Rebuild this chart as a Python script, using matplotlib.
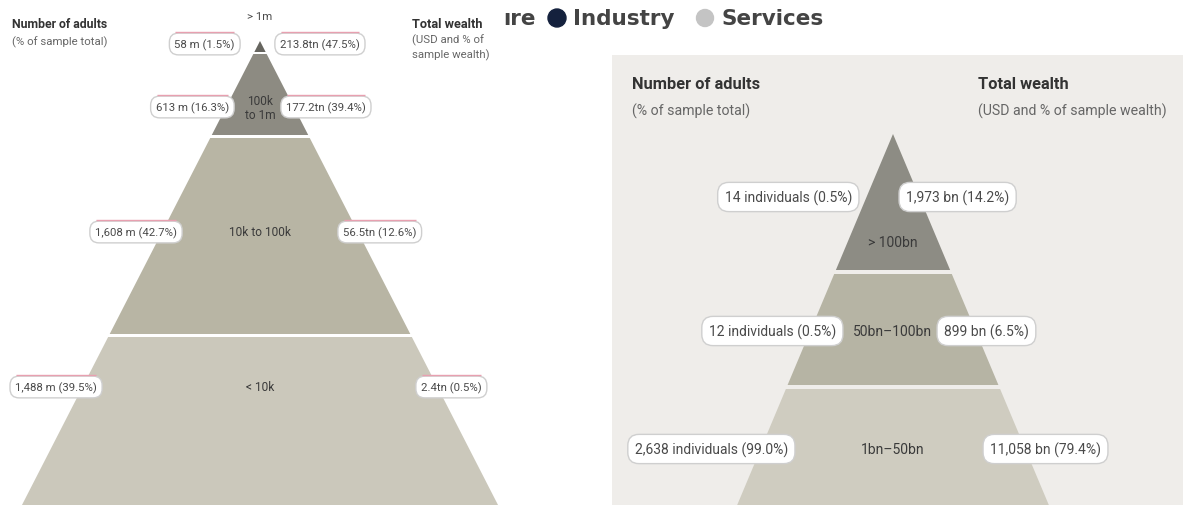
import matplotlib
matplotlib.use("Agg")
import matplotlib.pyplot as plt
from matplotlib.patches import Polygon, Rectangle, Circle

# ---- data -----------------------------------------------------------------
left_tiers = ["> 1m", "100k\nto 1m", "10k to 100k", "< 10k"]
left_adults = ["58 m (1.5%)", "613 m (16.3%)", "1,608 m (42.7%)", "1,488 m (39.5%)"]
left_wealth = ["213.8tn (47.5%)", "177.2tn (39.4%)", "56.5tn (12.6%)", "2.4tn (0.5%)"]

right_tiers = ["> 100bn", "50bn–100bn", "1bn–50bn"]
right_adults = ["14 individuals (0.5%)", "12 individuals (0.5%)", "2,638 individuals (99.0%)"]
right_wealth = ["1,973 bn (14.2%)", "899 bn (6.5%)", "11,058 bn (79.4%)"]

legend_items = ["ıre", "Industry", "Services"]
legend_colors = [None, "#14213d", "#c4c4c4"]

FAM = ["Roboto", "DejaVu Sans"]

W, H = 1183, 506
fig = plt.figure(figsize=(W / 100, H / 100), dpi=100)
ax = fig.add_axes([0, 0, 1, 1])
ax.set_xlim(0, W)
ax.set_ylim(H, 0)
ax.axis("off")

TXT = "#4a4a4a"
pink_boxes = []


def band(cx, apex, slope, y0, y1, color):
    h0 = (y0 - apex) * slope
    h1 = (y1 - apex) * slope
    pts = [(cx - h0, y0), (cx + h0, y0), (cx + h1, y1), (cx - h1, y1)]
    ax.add_patch(Polygon(pts, closed=True, facecolor=color, edgecolor="none", zorder=1))


def label(x, y, s, size, ha, pink=False, pad=0.35):
    t = ax.text(x, y, s, ha=ha, va="center", fontsize=size, color=TXT, family=FAM,
                zorder=5,
                bbox=dict(boxstyle=f"round,pad={pad},rounding_size=0.8", fc="white",
                          ec="#cfcfcf", lw=1.0))
    if pink:
        pink_boxes.append(t)
    return t


# ---- left pyramid ---------------------------------------------------------
L_CX, L_APEX, L_SLOPE = 260, 42, 0.513
left_bands = [(42, 53), (55, 136), (139, 335), (338, 520)]
left_cols = ["#66655f", "#8d8b82", "#b8b5a4", "#cbc8bb"]
for (y0, y1), c in zip(left_bands, left_cols):
    band(L_CX, L_APEX, L_SLOPE, y0, y1, c)

ax.text(12, 24, "Number of adults", fontsize=8.8, weight="bold", color="#333333",
        family=FAM, va="center")
ax.text(12, 42, "(% of sample total)", fontsize=8.2, color="#666666", family=FAM, va="center")
ax.text(412, 24, "Total wealth", fontsize=9.2, weight="bold", color="#333333",
        family=FAM, va="center")
ax.text(412, 40, "(USD and % of", fontsize=8.2, color="#666666", family=FAM, va="center")
ax.text(412, 55, "sample wealth)", fontsize=8.2, color="#666666", family=FAM, va="center")
ax.text(L_CX, 17, left_tiers[0], fontsize=8.2, color=TXT, family=FAM, ha="center", va="center")

left_rows = [45, 108, 233, 388]
left_lx = [235, 229, 177, 97]
left_rx = [280, 286, 343, 421]
for i, y in enumerate(left_rows):
    label(left_lx[i], y, left_adults[i], 8.2, "right", pink=True, pad=0.45)
    label(left_rx[i], y, left_wealth[i], 8.2, "left", pink=True, pad=0.45)
    if i > 0:
        ax.text(L_CX, y, left_tiers[i], fontsize=8.6, color="#3a3a3a", family=FAM,
                ha="center", va="center", linespacing=1.1, zorder=4)

# ---- legend strip ---------------------------------------------------------
LEG = "#444444"
LFAM = ["DejaVu Sans"]
ax.text(503, 19, legend_items[0], fontsize=15.5, weight="bold", color=LEG,
        family=LFAM, va="center")
ax.add_patch(Circle((557, 19), 9, color=legend_colors[1], zorder=3))
ax.text(573, 19, legend_items[1], fontsize=15.5, weight="bold", color=LEG,
        family=LFAM, va="center")
ax.add_patch(Circle((705, 19), 8.5, color=legend_colors[2], zorder=3))
ax.text(722, 19, legend_items[2], fontsize=15.5, weight="bold", color=LEG,
        family=LFAM, va="center")

# ---- right panel ----------------------------------------------------------
ax.add_patch(Rectangle((612, 56), W - 612, H - 56, fc="#efedea", ec="none", zorder=0))
R_CX, R_APEX, R_SLOPE = 893, 135, 0.42
right_bands = [(135, 271), (275, 386), (390, 520)]
right_cols = ["#8d8c84", "#b6b4a4", "#cfccc0"]
for (y0, y1), c in zip(right_bands, right_cols):
    band(R_CX, R_APEX, R_SLOPE, y0, y1, c)

ax.text(632, 84, "Number of adults", fontsize=11.8, weight="bold", color="#333333",
        family=FAM, va="center")
ax.text(632, 111, "(% of sample total)", fontsize=10.2, color="#666666", family=FAM, va="center")
ax.text(978, 84, "Total wealth", fontsize=11.8, weight="bold", color="#333333",
        family=FAM, va="center")
ax.text(978, 111, "(USD and % of sample wealth)", fontsize=10.2, color="#666666",
        family=FAM, va="center")

right_rows = [198, 332, 450]
right_tier_y = [243, 332, 450]
right_lx = [852, 836, 788]
right_rx = [906, 944, 990]
for i, y in enumerate(right_rows):
    label(right_lx[i], y, right_adults[i], 10, "right", pad=0.5)
    label(right_rx[i], y, right_wealth[i], 10, "left", pad=0.5)
    ax.text(R_CX, right_tier_y[i], right_tiers[i], fontsize=10, color="#3a3a3a",
            family=FAM, ha="center", va="center", zorder=4)

# pink rule along the top of each left-hand value box
fig.canvas.draw()
inv = ax.transData.inverted()
for t in pink_boxes:
    bb = t.get_bbox_patch().get_window_extent()
    (x0, y0), (x1, y1) = inv.transform([(bb.x0, bb.y0), (bb.x1, bb.y1)])
    top = min(y0, y1)
    ax.plot([x0 + 6, x1 - 6], [top - 1.5, top - 1.5], color="#e8a0b0", lw=1.0,
            zorder=6, solid_capstyle="butt")

fig.savefig("out.png", dpi=100)
